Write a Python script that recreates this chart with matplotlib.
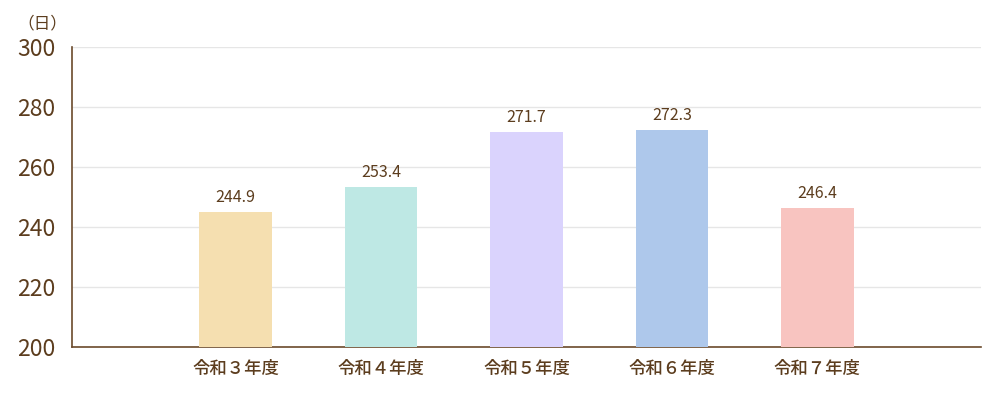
import matplotlib
matplotlib.use("Agg")
import matplotlib.pyplot as plt

categories = ["令和３年度", "令和４年度", "令和５年度", "令和６年度", "令和７年度"]
values = [244.9, 253.4, 271.7, 272.3, 246.4]
colors = ["#F5DFB0", "#BEE8E4", "#DAD3FD", "#AEC8EB", "#F8C4C0"]
yticks = [200, 220, 240, 260, 280, 300]

plt.rcParams['font.family'] = ['Noto Sans CJK JP', 'DejaVu Sans']
txt = "#5C3D1E"
axc = "#6B4A2B"

fig = plt.figure(figsize=(10, 4), dpi=100)
ax = fig.add_axes([0.072, 0.1325, 0.909, 0.75])
x = list(range(len(categories)))
ax.bar(x, values, width=0.5, color=colors, bottom=0, zorder=3)
for xi, v in zip(x, values):
    ax.text(xi, v + 2.0, f"{v:.1f}", ha="center", va="bottom", fontsize=11.5, color=txt)
ax.set_ylim(200, 300)
ax.set_xlim(-1.127, 4 + 1.127)
ax.set_yticks(yticks)
ax.set_yticklabels([str(t) for t in yticks], fontsize=16.5, color=txt)
ax.set_xticks(x)
ax.set_xticklabels(categories, fontsize=12.5, color=txt, fontweight="medium")
ax.tick_params(axis="both", length=0)
ax.tick_params(axis="y", pad=12)
ax.tick_params(axis="x", pad=9)
ax.grid(axis="y", color="#E6E6E6", linewidth=1, zorder=0)
for s in ["top", "right"]:
    ax.spines[s].set_visible(False)
ax.spines["left"].set_color(axc)
ax.spines["bottom"].set_color(axc)
ax.spines["left"].set_linewidth(1.2)
ax.spines["bottom"].set_linewidth(1.2)
fig.text(0.042, 0.94, "（日）", fontsize=12, color=txt, ha="center", va="center")
fig.savefig("out.png", dpi=100)
